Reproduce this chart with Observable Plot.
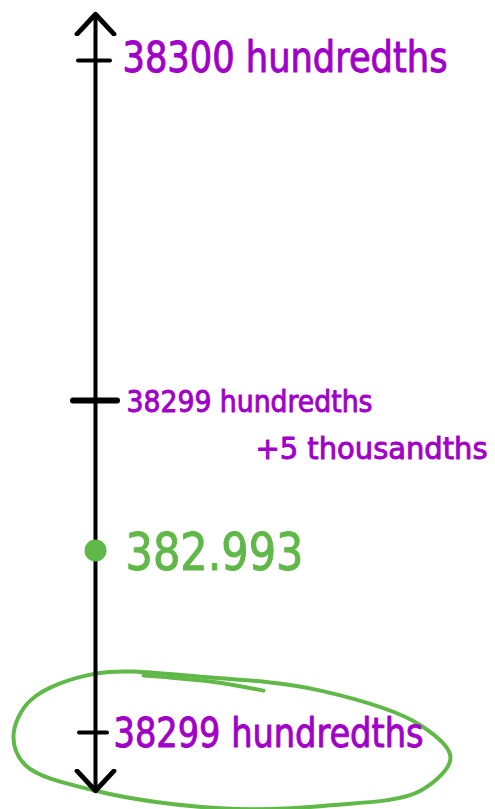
<!DOCTYPE html>
<html>
<head>
<meta charset="utf-8">
<script src="https://cdn.jsdelivr.net/npm/d3@7"></script>
<script src="https://cdn.jsdelivr.net/npm/@observablehq/plot@0.6"></script>
<style>
  html, body { margin: 0; padding: 0; background: #fff; }
</style>
</head>
<body>
<div id="chart"></div>
<script>
// ---- data ----
const tickValues = [382.99, 382.995, 383.00];
const tickLabels = ["38299 hundredths", "38299 hundredths", "38300 hundredths"];
const subLabel = "+5 thousandths";
const pointValue = [382.993];
const pointLabel = ["382.993"];
// number line ends (thousandths offset from 382.99)
const lineEnds = [-0.96, 10.68];
// hand-drawn circle round the answer (x: px right of axis, y: thousandths offset from 382.99)
const loopX = [-82, -65, 0, 105, 225, 325, 355, 325, 235, 125, 0, -70];
const loopY = [-0.05, 0.53, 0.97, 0.92, 0.69, 0.12, -0.41, -0.96, -1.20, -1.25, -0.96, -0.54];
const flickX = [48, 115, 168];
const flickY = [0.94, 0.84, 0.69];

const purple = "#a000c8";
const green = "#60b848";
const font = "'DejaVu Sans Condensed', 'Liberation Sans Narrow', sans-serif";
const v = t => 382.99 + t / 1000;

const loop = loopX.map((x, i) => ({x, y: v(loopY[i])}));
const flick = flickX.map((x, i) => ({x, y: v(flickY[i])}));
const ticks = tickValues.map((value, i) => ({value, label: tickLabels[i]}));

const purpleText = {textAnchor: "start", fontFamily: font, fill: purple, stroke: purple, strokeWidth: 0.9, paintOrder: "normal"};
const greenText = {textAnchor: "start", fontFamily: font, fill: green, stroke: green, strokeWidth: 1, paintOrder: "normal"};

const chart = Plot.plot({
  width: 495,
  height: 809,
  margin: 0,
  x: {type: "linear", domain: [-95, 400], range: [0, 495], axis: null},
  y: {type: "linear", domain: [382.99, 382.993, 382.995, 383.00], range: [732, 550, 400, 60], axis: null},
  marks: [
    Plot.line(loop, {x: "x", y: "y", curve: "catmull-rom-closed", stroke: green, strokeWidth: 4}),
    Plot.line(flick, {x: "x", y: "y", curve: "catmull-rom", stroke: green, strokeWidth: 4, strokeLinecap: "round"}),
    Plot.link([0], {x1: 0, x2: 0, y1: v(lineEnds[0]), y2: v(lineEnds[1]), stroke: "black", strokeWidth: 4, markerStart: "arrow-reverse", markerEnd: "arrow"}),
    Plot.ruleY([ticks[0]], {y: "value", x1: -16, x2: 12, stroke: "black", strokeWidth: 4, strokeLinecap: "round"}),
    Plot.ruleY([ticks[1]], {y: "value", x1: -22, x2: 22, stroke: "black", strokeWidth: 6, strokeLinecap: "round"}),
    Plot.ruleY([ticks[2]], {y: "value", x1: -17, x2: 15, stroke: "black", strokeWidth: 4, strokeLinecap: "round"}),
    Plot.dot(pointValue, {x: 0, y: d => d, r: 11, fill: green}),
    Plot.text([ticks[2]], {...purpleText, x: 0, y: "value", text: "label", dx: 27, dy: -2, fontSize: 43, className: "lab-top"}),
    Plot.text([ticks[1]], {...purpleText, x: 0, y: "value", text: "label", dx: 31, dy: 2, fontSize: 31, className: "lab-mid1"}),
    Plot.text([ticks[1]], {...purpleText, x: 0, y: "value", text: () => subLabel, dx: 160, dy: 49, fontSize: 31, className: "lab-mid2"}),
    Plot.text(pointValue, {...greenText, x: 0, y: d => d, text: (d, i) => pointLabel[i], dx: 30, dy: 3, fontSize: 52, className: "lab-pt"}),
    Plot.text([ticks[0]], {...purpleText, x: 0, y: "value", text: "label", dx: 18, dy: 1, fontSize: 41, className: "lab-bot"})
  ]
});

// enlarge the library's arrow markers to the hand-drawn size
d3.select(chart).selectAll("marker")
  .attr("markerUnits", "userSpaceOnUse")
  .attr("markerWidth", 44)
  .attr("markerHeight", 44)
  .attr("stroke-width", 1.1)
  .select("path").attr("d", "M-4.5,-4.2L0,0L-4.5,4.2");

// squeeze the labels to the narrow handwritten widths
const widths = {"lab-top": 325, "lab-mid1": 246, "lab-mid2": 232, "lab-pt": 178, "lab-bot": 310};
for (const [cls, w] of Object.entries(widths)) {
  d3.select(chart).selectAll(`.${cls} text`)
    .attr("textLength", w)
    .attr("lengthAdjust", "spacingAndGlyphs");
}

document.getElementById("chart").appendChild(chart);
</script>
</body>
</html>
